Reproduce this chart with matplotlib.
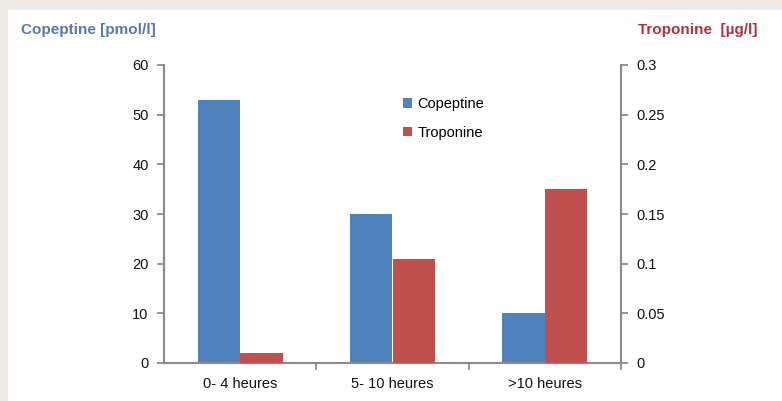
import numpy as np
import matplotlib.pyplot as plt
from matplotlib.patches import Rectangle

categories = ["0- 4 heures", "5- 10 heures", ">10 heures"]
copeptine = [53, 30, 10]          # pmol/l
troponine = [0.01, 0.105, 0.175]  # µg/l

blue = "#4F81BD"
red = "#C0504D"
grey = "#8C8C8C"

plt.rcParams["font.family"] = ["Liberation Sans", "DejaVu Sans"]

fig = plt.figure(figsize=(7.82, 4.01), dpi=100)
fig.patch.set_facecolor("#EDEAE4")
# white panel behind the chart
fig.patches.append(Rectangle((8 / 782, 0), 1, 1 - 10 / 401, transform=fig.transFigure,
                             facecolor="white", edgecolor="none", zorder=-10))

ax = fig.add_axes([164 / 782, 38 / 401, 457 / 782, 298 / 401])
ax.set_facecolor("none")
ax2 = ax.twinx()

x = np.arange(len(categories))
w = 0.28
b1 = ax.bar(x - w / 2, copeptine, w, color=blue, label="Copeptine", zorder=3)
b2 = ax2.bar(x + w / 2, troponine, w, color=red, label="Troponine", zorder=3)

ax.set_xlim(-0.5, 2.5)
ax.set_ylim(0, 60)
ax2.set_ylim(0, 0.3)
ax.set_yticks(range(0, 61, 10))
ax2.set_yticks([0, 0.05, 0.1, 0.15, 0.2, 0.25, 0.3])
ax2.set_yticklabels(["0", "0.05", "0.1", "0.15", "0.2", "0.25", "0.3"])

ax.set_xticks(x)
ax.set_xticklabels(categories, fontsize=10.5, color="#111111")
ax.tick_params(axis="x", length=0, pad=10)
ax.set_xticks([0.5, 1.5, 2.5], minor=True)
ax.tick_params(axis="x", which="minor", length=5, color=grey, width=1.3)

ax.tick_params(axis="y", length=5, color=grey, width=1.3, labelsize=10.5, labelcolor="#111111", pad=6)
ax2.tick_params(axis="y", length=5, color=grey, width=1.3, labelsize=10.5, labelcolor="#111111", pad=6)

for a in (ax, ax2):
    a.spines["top"].set_visible(False)
    for s in ("left", "right", "bottom"):
        a.spines[s].set_color(grey)
        a.spines[s].set_linewidth(1.5)

fig.text(21 / 782, 1 - 30 / 401, "Copeptine [pmol/l]", color="#5578B4", fontsize=11,
         fontweight="bold", va="center", ha="left")
fig.text(757 / 782, 1 - 30 / 401, "Troponine  [µg/l]", color="#B5303F", fontsize=11,
         fontweight="bold", va="center", ha="right")

fig.legend(handles=[b1, b2], loc="upper left", bbox_to_anchor=(390 / 782, 1 - 84 / 401),
           frameon=False, fontsize=10.5, handlelength=0.6, handleheight=0.6,
           handletextpad=0.4, labelspacing=1.0)

fig.savefig("out.png", dpi=100, facecolor=fig.get_facecolor())
